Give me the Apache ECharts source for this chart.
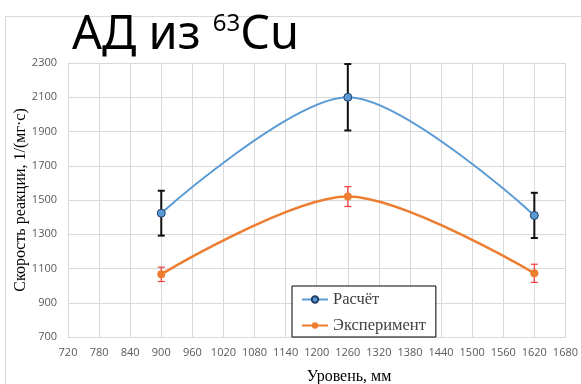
<!DOCTYPE html>
<html>
<head>
<meta charset="utf-8">
<script src="https://cdn.jsdelivr.net/npm/echarts@6/dist/echarts.min.js"></script>
<style>html,body{margin:0;padding:0;background:#fff}#c{width:581px;height:384px}</style>
</head>
<body>
<div id="c"></div>
<script>
// Data
const levels = [900, 1260, 1620];
const calc = [1423, 2100, 1410];
const calcErr = [131, 194, 132];
const exper = [1066, 1520, 1072];
const experErr = [42, 58, 53];
const xTicks = { min: 720, max: 1680, step: 60 };
const yTicks = { min: 700, max: 2300, step: 200 };

const chart = echarts.init(document.getElementById('c'), null, { renderer: 'canvas' });

function errBar(color, width, hw) {
  return function (params, api) {
    const x = api.value(0), lo = api.value(1), hi = api.value(2);
    const a = api.coord([x, hi]), b = api.coord([x, lo]);
    const st = { stroke: color, lineWidth: width };
    return {
      type: 'group',
      children: [
        { type: 'line', shape: { x1: a[0], y1: a[1], x2: b[0], y2: b[1] }, style: st },
        { type: 'line', shape: { x1: a[0] - hw, y1: a[1], x2: a[0] + hw, y2: a[1] }, style: st },
        { type: 'line', shape: { x1: b[0] - hw, y1: b[1], x2: b[0] + hw, y2: b[1] }, style: st }
      ]
    };
  };
}

const plain = v => String(v);

const option = {
  animation: false,
  backgroundColor: '#fff',
  title: {
    text: '{a|АД из }{s|63}{a|Cu}',
    left: 72, top: 8, padding: 0,
    textStyle: {
      fontWeight: 'normal',
      rich: {
        a: { fontFamily: 'Noto Sans', fontWeight: 'normal', fontSize: 47, color: '#000', lineHeight: 56 },
        s: { fontFamily: 'Noto Sans', fontWeight: 'normal', fontSize: 24, color: '#000', lineHeight: 26,
             verticalAlign: 'top', padding: [4, 0, 0, 0] }
      }
    }
  },
  graphic: [
    { type: 'rect', z: -10, shape: { x: 5.5, y: 16.5, width: 700, height: 500 },
      style: { fill: 'none', stroke: '#d9d9d9', lineWidth: 1 } },
    { type: 'text', x: 21, y: 200, rotation: Math.PI / 2,
      style: { text: 'Скорость реакции, 1/(мг·с)', fontFamily: 'Liberation Serif', fontSize: 16,
               fill: '#000', align: 'center', verticalAlign: 'middle' } },
    { type: 'text', x: 349, y: 377,
      style: { text: 'Уровень, мм', fontFamily: 'Liberation Serif', fontSize: 16,
               fill: '#000', align: 'center', verticalAlign: 'middle' } }
  ],
  legend: {
    data: ['Расчёт', 'Эксперимент'],
    orient: 'vertical', left: 292, top: 286,
    padding: [5, 10, 3, 9], itemGap: 9, itemWidth: 26, itemHeight: 8,
    backgroundColor: '#fff', borderColor: '#000', borderWidth: 1, borderRadius: 0,
    textStyle: { fontFamily: 'Liberation Serif', fontSize: 16.5, color: '#404040', lineHeight: 16 }
  },
  grid: { left: 68, right: 7, top: 63, bottom: 47, containLabel: false },
  xAxis: {
    type: 'value', min: xTicks.min, max: xTicks.max, interval: xTicks.step,
    axisLine: { show: true, lineStyle: { color: '#d9d9d9' } },
    axisTick: { show: false },
    splitLine: { show: true, lineStyle: { color: '#d9d9d9' } },
    axisLabel: { margin: 10, fontFamily: 'Open Sans', fontSize: 11, color: '#595959', showMaxLabel: true, formatter: plain }
  },
  yAxis: {
    type: 'value', min: yTicks.min, max: yTicks.max, interval: yTicks.step,
    axisLine: { show: true, lineStyle: { color: '#d9d9d9' } },
    axisTick: { show: false },
    splitLine: { show: true, lineStyle: { color: '#d9d9d9' } },
    axisLabel: { margin: 11, fontFamily: 'Open Sans', fontSize: 11, color: '#595959', formatter: plain }
  },
  series: [
    { type: 'custom', name: 'errCalc', z: 1, renderItem: errBar('#111', 2, 3.5),
      data: levels.map((x, i) => [x, calc[i] - calcErr[i], calc[i] + calcErr[i]]) },
    { type: 'custom', name: 'errExp', z: 1, renderItem: errBar('#f03c3c', 1.2, 3.5),
      data: levels.map((x, i) => [x, exper[i] - experErr[i], exper[i] + experErr[i]]) },
    { type: 'line', name: 'Расчёт', z: 3, smooth: 0.3,
      data: levels.map((x, i) => [x, calc[i]]),
      symbol: 'circle', symbolSize: 8,
      lineStyle: { color: '#5b9bd5', width: 2 },
      itemStyle: { color: '#5b9bd5', borderColor: '#1f3f66', borderWidth: 1 } },
    { type: 'line', name: 'Эксперимент', z: 3, smooth: 0.3,
      data: levels.map((x, i) => [x, exper[i]]),
      symbol: 'circle', symbolSize: 8,
      lineStyle: { color: '#ed7d31', width: 2.5 },
      itemStyle: { color: '#ed7d31', borderColor: '#ed7d31', borderWidth: 0 } }
  ]
};
chart.setOption(option);
</script>
</body>
</html>
